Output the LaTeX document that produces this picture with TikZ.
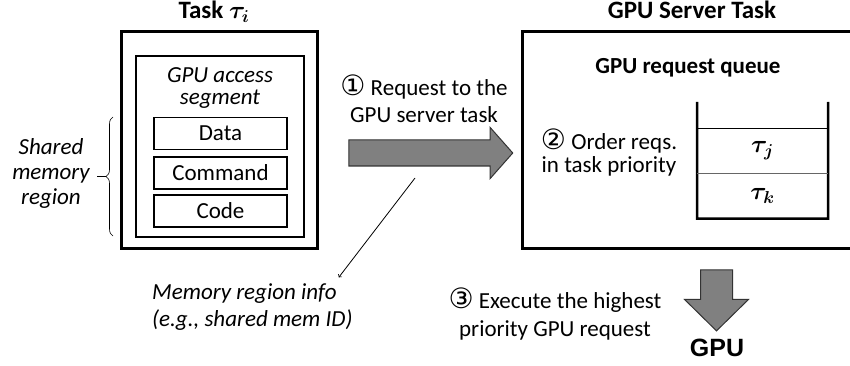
\documentclass[tikz,border=0pt]{standalone}
\usepackage{fontspec}
\setmainfont{Carlito}
\newfontfamily\circfont{DejaVu Sans}
\newfontfamily\arialfont{Liberation Sans}
\usetikzlibrary{shapes,arrows,positioning,decorations.pathreplacing}

\newcommand{\numcirc}[1]{{\circfont\fontsize{28}{25}\selectfont #1}}

\begin{document}
\begin{tikzpicture}[
    x=1pt, y=-1pt,
    txt/.style={font=\fontsize{23}{27}\selectfont, align=center, inner sep=0pt},
    title/.style={font=\fontsize{25}{30}\selectfont\bfseries, inner sep=0pt},
    taskbox/.style={rectangle, draw, line width=3pt, inner sep=0pt},
    segbox/.style={rectangle, draw, line width=2pt, inner sep=0pt},
    membox/.style={rectangle, draw, line width=1.2pt, inner sep=0pt, minimum width=133, minimum height=32, font=\fontsize{23}{27}\selectfont},
    slot/.style={inner sep=0pt, minimum width=131, font=\fontsize{27}{30}\selectfont\boldmath},
    blockarrow/.style={single arrow, draw=black!80, fill=black!50, line width=1pt, single arrow head indent=0pt},
    qwall/.style={line width=2.5pt}
]
    \useasboundingbox (0,0) rectangle (850,366);
    \clip (0,0) rectangle (850,366);

    % Task tau_i
    \node[taskbox, minimum width=196, minimum height=216] (task) at (219,140) {};
    \node[title, anchor=base] (tasktitle) at (214,19) {Task {\boldmath$\tau_i$}};
    \node[segbox, minimum width=168, minimum height=181] (segment) at (220,146.5) {};
    \node[txt, font=\fontsize{23}{22}\selectfont\itshape] (segtitle) at (220,88) {GPU access\\segment};
    \node[membox] (data) at (220.5,133.5) {Data};
    \node[membox] (command) at (220.5,173) {Command};
    \node[membox] (code) at (220.5,211) {Code};

    % Shared memory
    \draw[decorate, decoration={brace, amplitude=7pt}, line width=0.6pt] (113,236) -- (113,117) coordinate[pos=0.5] (bracemid);
    \draw[line width=0.6pt] ([xshift=-7pt]bracemid) -- ++(-9,0) coordinate (bracetip);
    \node[txt, font=\fontsize{23}{25}\selectfont\itshape] (shared) at (51,173) {Shared\\memory\\region};

    % Request
    \node[blockarrow, inner sep=12.5, minimum height=164, single arrow head extend=12.5, single arrow tip angle=97] (reqarrow) at (425,153) {};
    \node[txt] (reqlabel) at (424,99) {\numcirc{①} Request to the\\GPU server task};
    \coordinate (infofrom) at (415,178);
    \node[txt, align=left, anchor=west, font=\fontsize{23}{27}\selectfont\itshape] (meminfo) at (152,307) {Memory region info\\(e.g., shared mem ID)};
    \draw[->, line width=0.8pt] (infofrom) -- ([xshift=-14pt, yshift=6pt]meminfo.north east);

    % GPU server task
    \node[taskbox, minimum width=350, minimum height=216] (server) at (697,140) {};
    \node[title, anchor=base] (servertitle) at (692,19) {GPU Server Task};
    \node[txt, font=\fontsize{23}{27}\selectfont\bfseries] (queuetitle) at (688,68) {GPU request queue};
    \node[txt, font=\fontsize{23}{23}\selectfont] (orderlabel) at (609,153) {\numcirc{②} Order reqs.\\in task priority};

    % Queue
    \node[slot, minimum height=44] (slotj) at (762.5,151) {$\tau_j$};
    \node[slot, minimum height=45, below=0pt of slotj] (slotk) {$\tau_k$};
    \coordinate (qtopl) at (697,102);
    \coordinate (qtopr) at (828,102);
    \draw[qwall] (qtopl) |- (slotk.south east) -- (qtopr);
    \draw[line width=1pt] (slotj.north west) -- (slotj.north east);
    \draw[line width=1pt, black!60] (slotk.north west) -- (slotk.north east);

    % Execute
    \node[blockarrow, inner sep=15.5, minimum height=61, single arrow head extend=16, single arrow tip angle=91, shape border rotate=270] (execarrow) at (716.5,292.5) {};
    \node[txt, font=\fontsize{23}{28}\selectfont] (execlabel) at (555,314) {\numcirc{③} Execute the highest\\priority GPU request};
    \node[inner sep=0pt, font=\arialfont\fontsize{25}{28}\selectfont\bfseries] (gpu) at (717,348) {GPU};
\end{tikzpicture}
\end{document}
